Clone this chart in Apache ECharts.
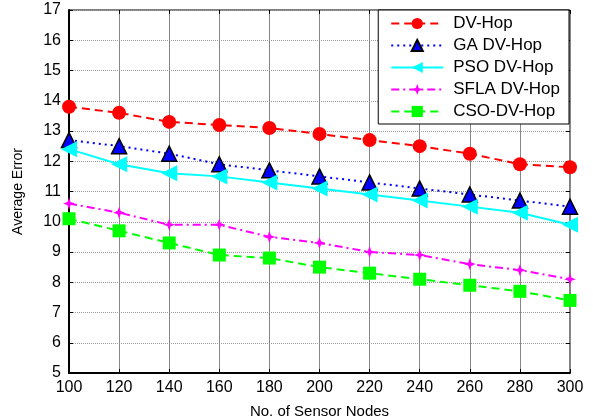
<!DOCTYPE html>
<html>
<head>
<meta charset="utf-8">
<script src="https://cdn.jsdelivr.net/npm/echarts@6/dist/echarts.min.js"></script>
<style>
    html, body {margin: 0; padding: 0; background: #fff;}
    #main {width: 593px; height: 418px;}
</style>
</head>
<body>
<div id="main"></div>
<script>
// 传感器节点数
var nodes = [100, 120, 140, 160, 180, 200, 220, 240, 260, 280, 300];
var dvHop = [13.8, 13.6, 13.3, 13.2, 13.1, 12.9, 12.7, 12.5, 12.25, 11.9, 11.8];
var gaDvHop = [12.7, 12.5, 12.25, 11.9, 11.7, 11.5, 11.3, 11.1, 10.9, 10.7, 10.5];
var psoDvHop = [12.4, 11.9, 11.6, 11.5, 11.3, 11.1, 10.9, 10.7, 10.5, 10.3, 9.9];
var sflaDvHop = [10.6, 10.3, 9.9, 9.9, 9.5, 9.3, 9.0, 8.9, 8.6, 8.4, 8.1];
var csoDvHop = [10.1, 9.7, 9.3, 8.9, 8.8, 8.5, 8.3, 8.1, 7.9, 7.7, 7.4];

function pairs(arr) {
    return arr.map(function (v, i) { return [nodes[i], v]; });
}

var font = 'Liberation Sans, Arial, sans-serif';
var leftTri = 'path://M0,5 L10,0 L10,10 Z';
var star = 'path://M5,0 L6.3,3.7 L10,5 L6.3,6.3 L5,10 L3.7,6.3 L0,5 L3.7,3.7 Z';

function mkSeries(name, data, color, lineType, symbol, size, border) {
    return {
        name: name,
        type: 'line',
        data: pairs(data),
        symbol: symbol,
        symbolSize: size,
        showAllSymbol: true,
        lineStyle: {color: color, width: 2, type: lineType},
        itemStyle: {color: color, borderColor: border || color, borderWidth: border ? 1.5 : 0},
        emphasis: {disabled: true},
        z: 3
    };
}

var myChart = echarts.init(document.getElementById('main'));
var option = {
    animation: false,
    backgroundColor: '#fff',
    textStyle: {fontFamily: font},
    grid: {left: 69, right: 23, top: 10, bottom: 45, outerBoundsMode: 'none', containLabel: false,
        show: true, borderColor: '#000', borderWidth: 1},
    legend: {
        orient: 'vertical',
        right: 24,
        top: 10,
        backgroundColor: '#fff',
        borderColor: '#000',
        borderWidth: 1,
        borderRadius: 0,
        padding: [5, 9, 4, 12],
        itemWidth: 52,
        itemHeight: 14,
        itemGap: 5,
        textStyle: {fontSize: 17, color: '#000', fontFamily: font, padding: [0, 0, 0, 5]},
        data: ['DV-Hop', 'GA DV-Hop', 'PSO DV-Hop', 'SFLA DV-Hop', 'CSO-DV-Hop']
    },
    xAxis: [{
        type: 'value',
        min: 100,
        max: 300,
        interval: 20,
        name: 'No. of Sensor Nodes',
        nameLocation: 'middle',
        nameGap: 31,
        nameTextStyle: {fontSize: 15, color: '#000'},
        axisLine: {lineStyle: {color: '#000', width: 2}},
        axisTick: {inside: true, length: 4, lineStyle: {color: '#000'}},
        axisLabel: {fontSize: 16, color: '#000', margin: 7},
        splitLine: {lineStyle: {color: '#888', width: 1}}
    }, {
        type: 'value',
        position: 'top',
        min: 100,
        max: 300,
        interval: 20,
        axisLine: {show: false},
        axisTick: {inside: true, length: 4, lineStyle: {color: '#000'}},
        axisLabel: {show: false},
        splitLine: {show: false}
    }],
    yAxis: [{
        type: 'value',
        min: 5,
        max: 17,
        interval: 1,
        name: 'Average Error',
        nameLocation: 'middle',
        nameGap: 44,
        nameTextStyle: {fontSize: 14, color: '#000'},
        axisLine: {show: true, lineStyle: {color: '#000', width: 2}},
        axisTick: {show: true, inside: true, length: 4, lineStyle: {color: '#000'}},
        axisLabel: {fontSize: 16, color: '#000', margin: 8},
        splitLine: {lineStyle: {color: '#999', width: 1, type: 'dotted'}}
    }, {
        type: 'value',
        position: 'right',
        min: 5,
        max: 17,
        interval: 1,
        axisLine: {show: false},
        axisTick: {show: true, inside: true, length: 4, lineStyle: {color: '#000'}},
        axisLabel: {show: false},
        splitLine: {show: false}
    }],
    series: [
        mkSeries('DV-Hop', dvHop, '#ff0000', [8, 5], 'circle', 14),
        mkSeries('GA DV-Hop', gaDvHop, '#0000ff', [2, 4], 'triangle', 15, '#000'),
        mkSeries('PSO DV-Hop', psoDvHop, '#00ffff', 'solid', leftTri, 16),
        mkSeries('SFLA DV-Hop', sflaDvHop, '#ff00ff', [8, 4, 2, 4], star, 12),
        mkSeries('CSO-DV-Hop', csoDvHop, '#00ff00', [8, 5], 'rect', 13)
    ]
};
myChart.setOption(option);
</script>
</body>
</html>
